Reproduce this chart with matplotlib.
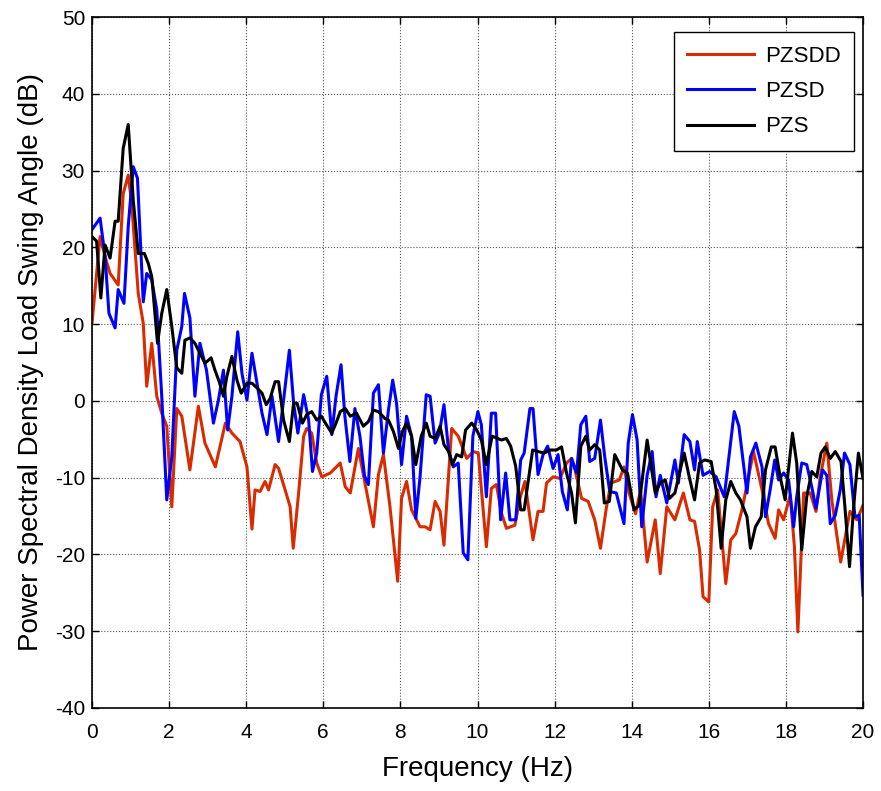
import matplotlib.pyplot as plt

plt.rcParams["font.family"] = ["Liberation Sans", "DejaVu Sans"]
plt.rcParams["axes.unicode_minus"] = False

# PZSDD (red)
f_pzsdd = [0, 0.21, 0.34, 0.47, 0.68, 0.81, 0.94, 1.03, 1.2, 1.33, 1.42, 1.55, 1.68, 1.81, 1.94,
           2.07, 2.2, 2.33, 2.54, 2.76, 2.93, 3.2, 3.46, 3.63, 3.84, 4.02, 4.15, 4.23, 4.36, 4.49,
           4.58, 4.75, 4.84, 5.01, 5.14, 5.22, 5.36, 5.49, 5.57, 5.7, 5.83, 5.96, 6.18, 6.44, 6.57,
           6.7, 6.91, 7.08, 7.3, 7.43, 7.56, 7.73, 7.93, 8.03, 8.16, 8.29, 8.51, 8.64, 8.77, 8.9,
           9.03, 9.13, 9.33, 9.5, 9.72, 9.89, 10.02, 10.23, 10.36, 10.49, 10.62, 10.75, 10.97, 11.1,
           11.23, 11.44, 11.57, 11.7, 11.79, 11.96, 12.14, 12.31, 12.44, 12.53, 12.7, 12.87, 13.04,
           13.19, 13.34, 13.46, 13.68, 13.8, 13.93, 14.1, 14.23, 14.4, 14.61, 14.74, 14.91, 15.12,
           15.34, 15.51, 15.63, 15.76, 15.85, 16.0, 16.1, 16.23, 16.44, 16.57, 16.7, 16.86, 17.16,
           17.38, 17.55, 17.72, 17.81, 17.94, 18.11, 18.22, 18.31, 18.46, 18.63, 18.78, 18.89,
           19.06, 19.19, 19.42, 19.66, 19.84, 20.0]
db_pzsdd = [10.1, 21.4, 18.8, 16.6, 15.1, 27, 29.4, 25.7, 14, 10.1, 1.9, 7.5, 0.6, -1.6, -3.3,
            -13.8, -1, -2, -9, -0.7, -5.5, -8.6, -2.9, -4.2, -5.3, -8.6, -16.7, -11.6, -11.8, -10.5,
            -11.6, -8.3, -8.8, -11.6, -13.8, -19.2, -12, -4.6, -3.6, -4.2, -8.1, -9.9, -9.4, -8.1, -11.2,
            -12, -6.2, -10.7, -16.4, -9.6, -7, -13.8, -23.5, -12.7, -10.5, -14.2, -16.4, -16.4, -16.8, -13.1,
            -14.4, -18.8, -3.6, -4.6, -7.5, -6.6, -6.8, -19, -11.4, -10.9, -14.6, -16.6, -16.2, -12.7,
            -10.5, -18.1, -14.4, -14.4, -10.7, -9.9, -10.1, -8.1, -7.5, -9, -12.7, -13.1, -15.5,
            -19.2, -14, -10.7, -10.3, -8.6, -12, -14.7, -11.6, -21, -15.5, -22.5, -13.8, -15.5,
            -12, -15.5, -15.7, -19.4, -25.5, -26.2, -13.8, -11.6, -23.8, -18.1, -17.3, -14.2, -6.6,
            -11.6, -16, -17.9, -14.2, -15.5, -12.3, -19, -30.1, -12, -12, -14.4, -9.9,
            -5.5, -12.9, -21, -14.4, -15.5, -13.6]

# PZSD (blue)
f_pzsd = [0, 0.21, 0.34, 0.44, 0.6, 0.68, 0.83, 0.94, 1.07, 1.18, 1.33, 1.42, 1.55, 1.68, 1.81,
          1.94, 2.07, 2.2, 2.33, 2.4, 2.54, 2.67, 2.8, 2.97, 3.15, 3.28, 3.41, 3.52, 3.63, 3.78,
          3.89, 4.02, 4.15, 4.28, 4.41, 4.54, 4.67, 4.84, 4.97, 5.12, 5.23, 5.34, 5.49, 5.62, 5.72,
          5.83, 5.95, 6.09, 6.22, 6.33, 6.46, 6.56, 6.69, 6.82, 6.95, 7.07, 7.17, 7.3, 7.43, 7.56,
          7.69, 7.8, 7.9, 8.03, 8.16, 8.29, 8.4, 8.51, 8.67, 8.77, 8.9, 9.01, 9.13, 9.25, 9.37,
          9.5, 9.63, 9.75, 9.88, 10.01, 10.1, 10.23, 10.36, 10.47, 10.6, 10.73, 10.84, 10.99, 11.12,
          11.21, 11.36, 11.44, 11.57, 11.7, 11.82, 11.96, 12.09, 12.2, 12.33, 12.44, 12.57, 12.68,
          12.81, 12.91, 13.04, 13.19, 13.3, 13.43, 13.6, 13.8, 13.91, 14.02, 14.14, 14.26, 14.4,
          14.53, 14.63, 14.74, 14.91, 15.12, 15.21, 15.36, 15.51, 15.63, 15.7, 15.85, 16.02, 16.19,
          16.4, 16.66, 16.78, 16.99, 17.08, 17.22, 17.38, 17.47, 17.59, 17.71, 17.81, 17.94, 18.07,
          18.2, 18.28, 18.41, 18.54, 18.67, 18.78, 18.95, 19.06, 19.15, 19.28, 19.41, 19.52, 19.66,
          19.79, 19.9, 20.0]
db_pzsd = [22.3, 23.8, 18.8, 11.4, 9.5, 14.5, 12.7, 22.7, 30.5, 29, 12.9, 16.6, 15.8, 11.9, 0.6,
           -12.9, -7.3, 6.6, 9.7, 14, 10.8, 0.6, 7.5, 4, -2.9, 0.1, 4, -3.8, 0.6, 9,
           3.6, 0.1, 6.2, 2.3, -1.6, -4.4, 0.6, -5.3, 0.1, 6.6, -0.3, -4.2, 0.8, -2.5, -9.2,
           -6.8, 0.8, 3.2, -4.4, 0.6, 4.7, -2, -7.9, -1, -4.6, -9.8, -10.9, 1, 2.1, -6.8,
           -1.2, 2.7, -0.3, -8.3, -2, -4.6, -15.3, -9.9, 0.8, 0.6, -5.5, -4.2, -0.5, -6.4, -8.6,
           -8.1, -19.8, -20.7, -4.6, -1.4, -3.1, -12.5, -1.6, -1.6, -15.5, -9.4, -15.5, -15.5, -7.7,
           -6.8, -1, -1, -9.6, -7, -5.9, -8.8, -7, -11.8, -14.2, -7.5, -9.4, -3.1,
           -2, -7.9, -7.5, -2.5, -7.3, -11.8, -12, -16, -5.5, -1.8, -5.1, -16.4, -9.7,
           -6.6, -12.5, -9.7, -13.3, -7.7, -10.7, -4.4, -5.3, -9, -5.3, -9.7, -9.2, -9.9,
           -12.5, -1.4, -3.3, -12, -7.3, -5.5, -8.6, -15.1, -11.6, -7.7, -10.3, -9.4, -10.3,
           -16.4, -12.5, -8.1, -8.3, -11.2, -14, -9, -9.7, -16, -14.9, -11.6, -6.8, -8.3,
           -15.1, -14.9, -25.3]

# PZS (black)
f_pzs = [0, 0.12, 0.23, 0.34, 0.47, 0.6, 0.68, 0.81, 0.94, 1.07, 1.2, 1.36, 1.46, 1.55, 1.7,
         1.81, 1.94, 2.07, 2.2, 2.33, 2.41, 2.54, 2.67, 2.8, 2.93, 3.09, 3.19, 3.3, 3.41, 3.5,
         3.63, 3.76, 3.87, 4.02, 4.15, 4.28, 4.41, 4.52, 4.62, 4.75, 4.84, 4.97, 5.12, 5.23, 5.32,
         5.46, 5.57, 5.7, 5.83, 5.95, 6.08, 6.22, 6.33, 6.44, 6.57, 6.7, 6.86, 7.04, 7.17, 7.3,
         7.43, 7.6, 7.69, 7.82, 7.95, 8.05, 8.16, 8.29, 8.4, 8.54, 8.67, 8.77, 8.9, 9.03, 9.13,
         9.25, 9.35, 9.46, 9.59, 9.69, 9.85, 9.98, 10.1, 10.23, 10.38, 10.52, 10.62, 10.75, 10.86,
         10.99, 11.12, 11.21, 11.31, 11.43, 11.57, 11.73, 11.88, 12.05, 12.18, 12.31, 12.44, 12.54,
         12.68, 12.81, 12.91, 13.04, 13.17, 13.29, 13.42, 13.56, 13.76, 13.89, 14.06, 14.19, 14.4,
         14.61, 14.74, 14.87, 14.98, 15.12, 15.36, 15.51, 15.63, 15.76, 15.89, 16.06, 16.19, 16.32,
         16.44, 16.57, 16.7, 16.82, 16.99, 17.08, 17.21, 17.36, 17.47, 17.62, 17.72, 17.85, 17.98,
         18.17, 18.28, 18.41, 18.54, 18.67, 18.8, 18.91, 19.02, 19.15, 19.28, 19.43, 19.53, 19.65,
         19.75, 19.88, 20.0]
db_pzs = [21.4, 20.8, 13.4, 20.3, 18.6, 23.4, 23.4, 32.9, 36, 26.2, 19.2, 19.2, 17.9, 16.2, 7.5,
          11.4, 14.5, 9.7, 4.3, 3.6, 7.9, 8.2, 7.5, 6.2, 4.9, 5.6, 4, 2.5, 0.6, 3.2,
          5.8, 2.7, 1, 2.3, 2.3, 1.7, 1, -0.5, 0.3, 2.5, 2.5, -2.5, -5.3, -0.3, -0.3,
          -2.9, -1.8, -1.4, -2.5, -2, -3.1, -4.2, -2.9, -1.4, -1, -2, -1.6, -3.3, -2.7, -1.2,
          -1.4, -2.3, -2.5, -4, -6.2, -4, -2.9, -4.6, -8.3, -4.6, -2.9, -4.6, -4.9, -3.3, -5.7,
          -6.6, -8.3, -7, -7.3, -3.8, -2.9, -3.8, -5.1, -8.3, -4.6, -4.9, -5.1, -4.9, -5.9,
          -8.5, -14.2, -14.2, -10.7, -6.4, -6.6, -6.8, -6.4, -6.4, -6, -9.4, -12, -15.9,
          -5.9, -4.6, -6.4, -5.7, -6.4, -13.3, -13.1, -7, -9, -9.4, -14.2, -13.6, -5.1,
          -12, -10.7, -10.3, -12.7, -12, -6.8, -10.3, -12.9, -8.1, -7.7, -7.9, -11.6, -19.2,
          -12.9, -10.5, -12, -12.9, -15.1, -19.2, -16.4, -15.1, -9, -6, -6, -9.9, -12.9,
          -4.2, -8.1, -19.4, -12.5, -9.2, -9.9, -6.8, -6, -7.5, -6.6, -7.9, -13.8, -21.6,
          -14.2, -6.8, -10.1]

fig = plt.figure(figsize=(8.81, 7.91), dpi=100)
ax = fig.add_axes([0.1044, 0.105, 0.8752, 0.8735])

ax.plot(f_pzsdd, db_pzsdd, color="#d92b00", lw=2.2, label="PZSDD")
ax.plot(f_pzsd, db_pzsd, color="#0000ff", lw=2.2, label="PZSD")
ax.plot(f_pzs, db_pzs, color="black", lw=2.2, label="PZS")

ax.set_xlim(0, 20)
ax.set_ylim(-40, 50)
ax.set_xticks(range(0, 21, 2))
ax.set_yticks(range(-40, 51, 10))
ax.grid(True, linestyle=":", color="#555555", lw=0.8)
ax.tick_params(direction="in", top=True, right=True, labelsize=15, length=5, width=1)
ax.tick_params(axis="x", pad=11)
ax.tick_params(axis="y", pad=5)
for s in ax.spines.values():
    s.set_linewidth(1.2)

ax.set_xlabel("Frequency (Hz)", fontsize=20, labelpad=10)
ax.set_ylabel("Power Spectral Density Load Swing Angle (dB)", fontsize=20, labelpad=8)

leg = ax.legend(loc="upper right", fontsize=16, fancybox=False, edgecolor="black",
                framealpha=1, handlelength=3.0, handletextpad=0.5, borderpad=0.6,
                labelspacing=0.65, borderaxespad=0, bbox_to_anchor=(0.988, 0.978))
leg.get_frame().set_linewidth(1.0)

plt.savefig("out.png", dpi=100)
